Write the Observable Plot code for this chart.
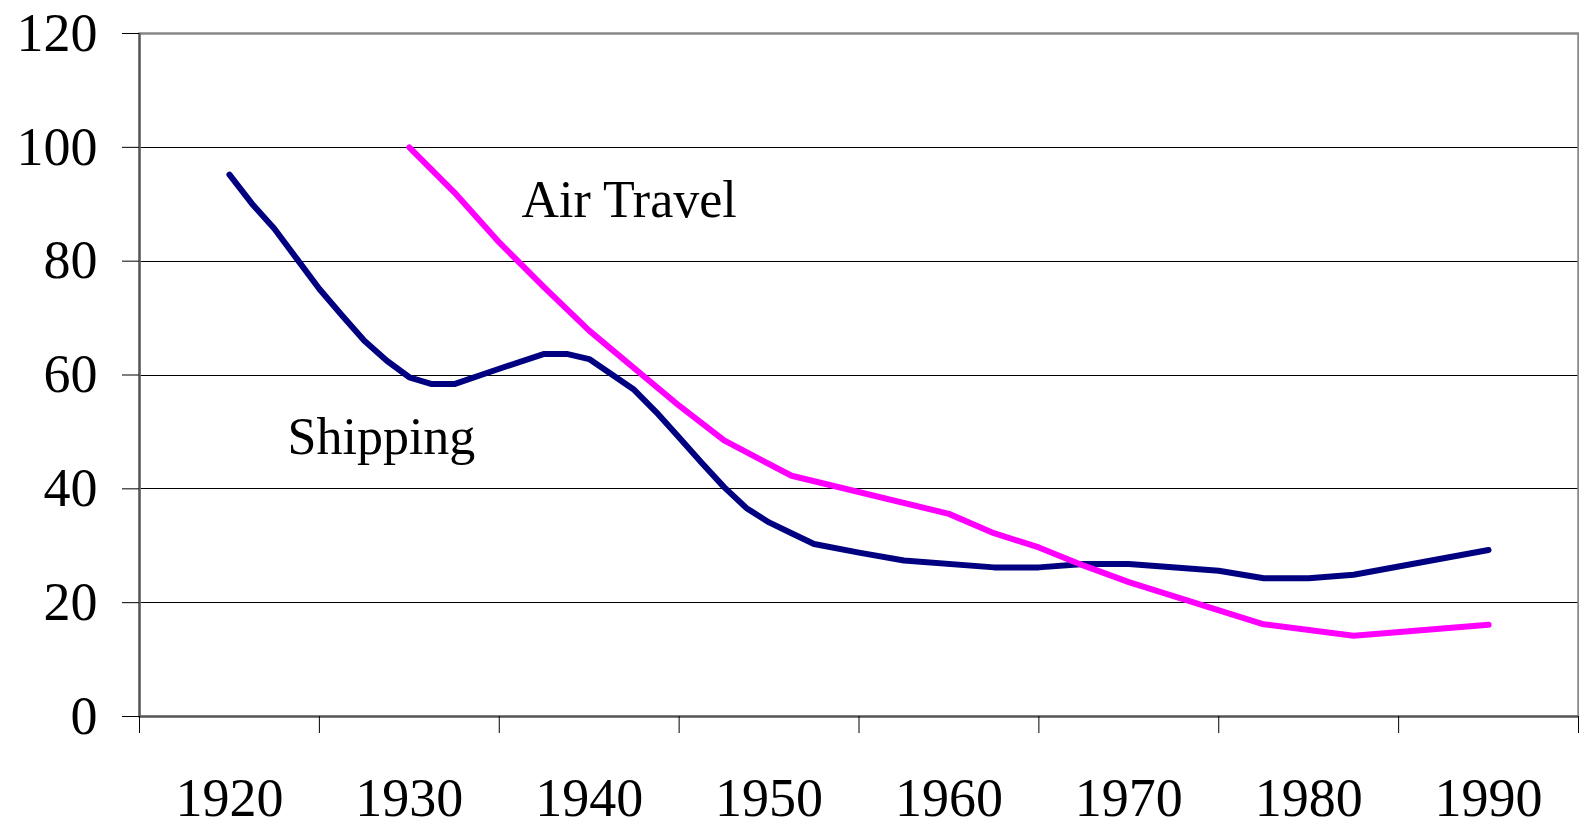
<!DOCTYPE html>
<html>
<head>
<meta charset="utf-8">
<script src="https://cdn.jsdelivr.net/npm/d3@7"></script>
<script src="https://cdn.jsdelivr.net/npm/@observablehq/plot@0.6"></script>
<style>
  html, body { margin: 0; padding: 0; background: #fff; }
  svg { display: block; }
</style>
</head>
<body>
<div id="chart"></div>
<script>
// ---- data ----
const shippingYears = [1920, 1921.25, 1922.5, 1923.75, 1925, 1926.25, 1927.5, 1928.75, 1930, 1931.25, 1932.5, 1935, 1937.5, 1938.75, 1940, 1942.5, 1943.75, 1945, 1946.25, 1947.5, 1948.75, 1950, 1951.25, 1952.5, 1955, 1957.5, 1962.5, 1965, 1967.5, 1970, 1975, 1977.5, 1980, 1982.5, 1990];
const shippingValues = [95.2, 90.1, 85.7, 80.4, 75.1, 70.5, 66.0, 62.5, 59.6, 58.4, 58.4, 61.1, 63.7, 63.7, 62.8, 57.4, 53.4, 49.0, 44.6, 40.3, 36.6, 34.1, 32.2, 30.3, 28.8, 27.4, 26.2, 26.2, 26.8, 26.8, 25.6, 24.3, 24.3, 24.9, 29.25];
const airYears = [1930, 1932.5, 1935, 1937.5, 1940, 1945, 1947.5, 1951.25, 1960, 1962.5, 1965, 1967.5, 1970, 1977.5, 1982.5, 1990];
const airValues = [100, 92.1, 83.3, 75.4, 67.8, 54.6, 48.5, 42.3, 35.6, 32.2, 29.7, 26.5, 23.6, 16.2, 14.2, 16.1];
const seriesNames = ["Shipping", "Air Travel"];
const yTicks = [0, 20, 40, 60, 80, 100, 120];
const decadeLabels = [1920, 1930, 1940, 1950, 1960, 1970, 1980, 1990];
const decadeBounds = [1915, 1925, 1935, 1945, 1955, 1965, 1975, 1985, 1995];

const rows = [
  ...shippingYears.map((yr, i) => ({series: seriesNames[0], year: yr, value: shippingValues[i]})),
  ...airYears.map((yr, i) => ({series: seriesNames[1], year: yr, value: airValues[i]}))
];

const serif = "'Liberation Serif', 'Times New Roman', Times, serif";

const chart = Plot.plot({
  width: 1579,
  height: 827,
  marginLeft: 139,
  marginRight: 1,
  marginTop: 33,
  marginBottom: 111,
  style: {fontFamily: serif, fontSize: "54px", background: "#fff", color: "#000"},
  x: {domain: [1915, 1995]},
  y: {domain: [0, 120]},
  color: {domain: seriesNames, range: ["#000080", "#ff00ff"]},
  marks: [
    Plot.ruleY(yTicks.filter(d => d > 0 && d < 120), {stroke: "#000", strokeWidth: 1, shapeRendering: "crispEdges"}),
    Plot.frame({stroke: "#888", strokeWidth: 2.5}),
    Plot.ruleY([0], {stroke: "#555", strokeWidth: 2}),
    Plot.ruleX([1915], {stroke: "#555", strokeWidth: 2}),
    Plot.axisY({ticks: yTicks, tickSize: 17, tickPadding: 25, tickFormat: d => String(d), label: null, fontSize: 54, stroke: "#000"}),
    Plot.axisX({ticks: decadeBounds, tickSize: 17, tickFormat: () => "", label: null, stroke: "#000"}),
    Plot.axisX({ticks: decadeLabels, tickSize: 0, tickPadding: 61, tickFormat: d => String(d), label: null, fontSize: 54}),
    Plot.line(rows, {x: "year", y: "value", z: "series", stroke: "series", strokeWidth: 6, strokeLinecap: "round", strokeLinejoin: "round"}),
    Plot.text([seriesNames[1]], {x: 1936.24, y: 87.7, text: d => d, textAnchor: "start", lineAnchor: "bottom", fontSize: 52, fill: "#000"}),
    Plot.text([seriesNames[0]], {x: 1923.23, y: 46.2, text: d => d, textAnchor: "start", lineAnchor: "bottom", fontSize: 52, fill: "#000"})
  ]
});
document.getElementById("chart").appendChild(chart);
</script>
</body>
</html>
